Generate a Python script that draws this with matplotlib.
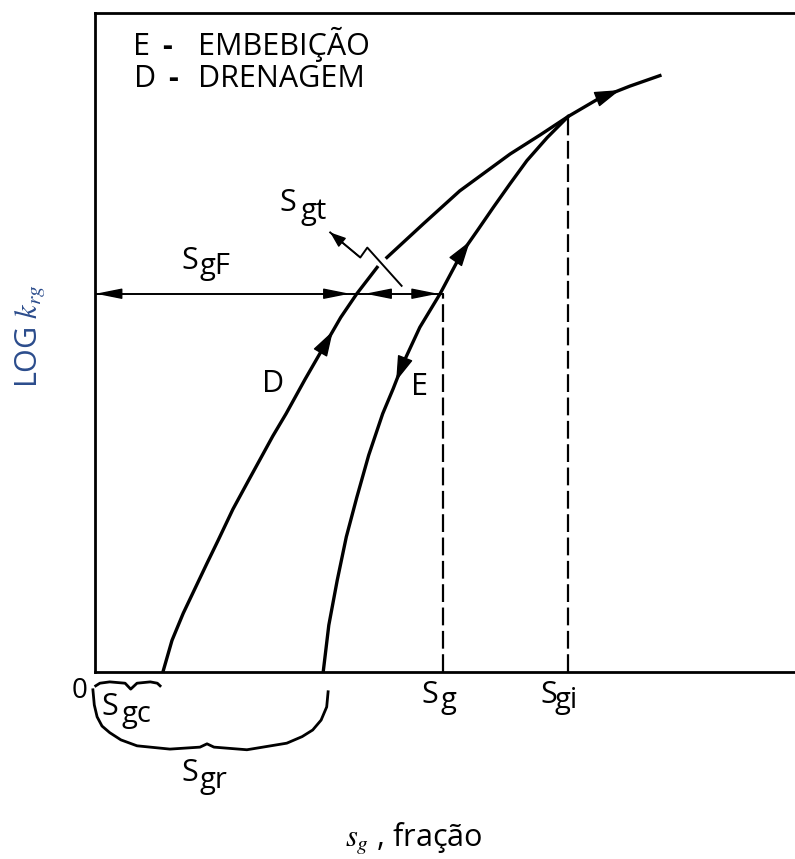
import matplotlib
matplotlib.use('Agg')
import matplotlib.pyplot as plt
import numpy as np

plt.rcParams['font.family'] = ['Open Sans', 'DejaVu Sans']
plt.rcParams['mathtext.fontset'] = 'stix'

# drainage curve D (x = gas saturation, y = log krg, both scaled 0..1)
drain_x = [0.097, 0.110, 0.126, 0.143, 0.160, 0.176, 0.197, 0.220, 0.236, 0.254,
           0.273, 0.300, 0.326, 0.351, 0.374, 0.403,
           0.417, 0.469, 0.521, 0.593, 0.636, 0.676, 0.721, 0.764, 0.807]
drain_y = [0.000, 0.048, 0.089, 0.127, 0.165, 0.200, 0.247, 0.292, 0.323, 0.358,
           0.392, 0.444, 0.492, 0.538, 0.574, 0.614,
           0.629, 0.680, 0.730, 0.786, 0.815, 0.843, 0.871, 0.889, 0.905]
drain_gap = 16  # curve is broken where the S_gt pointer crosses it

# imbibition curve E (from S_gr up to S_gi)
imb_x = [0.326, 0.334, 0.346, 0.359, 0.374, 0.391, 0.411, 0.426, 0.440, 0.464,
         0.493, 0.524, 0.547, 0.569, 0.593, 0.617, 0.646, 0.676]
imb_y = [0.000, 0.071, 0.139, 0.205, 0.265, 0.329, 0.392, 0.430, 0.468, 0.523,
         0.574, 0.636, 0.671, 0.705, 0.741, 0.776, 0.811, 0.843]

sg, sg_level = 0.497, 0.574
sgi, sgi_level = 0.676, 0.843

# arrows on the S_gF line: tip position and direction
sgf_tips = [0.001, 0.364, 0.386, 0.490]
sgf_dirs = [-1, 1, -1, 1]

# S_gt pointer
sgt_x = [0.336, 0.379, 0.389, 0.438]
sgt_y = [0.667, 0.629, 0.644, 0.586]

# braces under the x axis
brace_c_x = [0.001, 0.007, 0.021, 0.043, 0.051, 0.060, 0.079, 0.089, 0.093]
brace_c_y = [-0.021, -0.017, -0.015, -0.017, -0.026, -0.017, -0.015, -0.017, -0.021]
brace_r_x = [-0.003, -0.001, 0.003, 0.010, 0.021, 0.037, 0.060, 0.107, 0.150,
             0.160, 0.170, 0.217, 0.274, 0.296, 0.311, 0.323, 0.331, 0.333]
brace_r_y = [-0.027, -0.050, -0.068, -0.082, -0.092, -0.103, -0.112, -0.117, -0.114,
             -0.109, -0.114, -0.118, -0.108, -0.098, -0.088, -0.073, -0.053, -0.030]

fig = plt.figure(figsize=(7.95, 8.59), dpi=100)
ax = fig.add_axes([95 / 795, 187 / 859, 700 / 795, 659 / 859])
ax.set_xlim(0, 1)
ax.set_ylim(0, 1)
ax.set_xticks([])
ax.set_yticks([])
ax.spines['right'].set_visible(False)
for s in ['left', 'top', 'bottom']:
    ax.spines[s].set_linewidth(2)


def head(x0, y0, x1, y1, ms=20, hl=0.8, hw=0.25):
    ax.annotate('', xy=(x1, y1), xytext=(x0, y0), annotation_clip=False,
                arrowprops=dict(arrowstyle='-|>,head_length=%g,head_width=%g' % (hl, hw),
                                mutation_scale=ms, color='k', lw=1,
                                shrinkA=0, shrinkB=0))


def head_on(xs, ys, i, frac, reverse=False, **kw):
    a = np.array([xs[i], ys[i]])
    b = np.array([xs[i + 1], ys[i + 1]])
    d = (b - a) / np.hypot(*(b - a))
    if reverse:
        d = -d
    tip = a + frac * (b - a)
    tail = tip - 0.01 * d
    head(tail[0], tail[1], tip[0], tip[1], **kw)


lw = 2.4
ax.plot(drain_x[:drain_gap], drain_y[:drain_gap], 'k', lw=lw)
ax.plot(drain_x[drain_gap:], drain_y[drain_gap:], 'k', lw=lw)
ax.plot(imb_x, imb_y, 'k', lw=lw)

ax.plot([sg, sg], [0, sg_level], 'k', lw=1.6, ls=(0, (8, 2.5)))
ax.plot([sgi, sgi], [0, sgi_level], 'k', lw=1.6, ls=(0, (8, 2.5)))
ax.plot([0, sg], [sg_level, sg_level], 'k', lw=1.4)

head_on(drain_x, drain_y, 12, 0.55)
head_on(drain_x[drain_gap:], drain_y[drain_gap:], 6, 0.67)
head_on(imb_x, imb_y, 7, 0.3, reverse=True)
head_on(imb_x, imb_y, 11, 0.5)
for t, d in zip(sgf_tips, sgf_dirs):
    head(t - 0.01 * d, sg_level, t, sg_level, ms=18, hl=0.9, hw=0.18)

ax.plot(sgt_x, sgt_y, 'k', lw=1.4)
head(sgt_x[1], sgt_y[1], sgt_x[0], sgt_y[0], ms=12, hl=0.8, hw=0.3)

ax.plot(brace_c_x, brace_c_y, 'k', lw=2, clip_on=False)
ax.plot(brace_r_x, brace_r_y, 'k', lw=2, clip_on=False)

fs = 22
fsub = 21


def sym(x, y, sub, xs, ys):
    ax.text(x, y, 'S', fontsize=fs, va='baseline', ha='left', clip_on=False)
    ax.text(xs, ys, sub, fontsize=fsub, va='baseline', ha='left', clip_on=False)


sym(0.124, 0.612, 'gF', 0.150, 0.604)
sym(0.263, 0.700, 'gt', 0.293, 0.688)
sym(0.467, -0.047, 'g', 0.493, -0.055)
sym(0.636, -0.047, 'gi', 0.657, -0.055)
sym(0.0096, -0.065, 'gc', 0.038, -0.076)
sym(0.124, -0.166, 'gr', 0.150, -0.176)

ax.text(0.238, 0.425, 'D', fontsize=fs, va='baseline')
ax.text(0.452, 0.420, 'E', fontsize=fs, va='baseline')
ax.text(-0.033, -0.039, '0', fontsize=fs - 2, va='baseline', clip_on=False)

ax.text(0.054, 0.937, 'E', fontsize=fs, va='baseline')
ax.text(0.096, 0.937, '-', fontsize=fs, va='baseline', fontweight='bold')
ax.text(0.147, 0.937, 'EMBEBIÇÃO', fontsize=fs, va='baseline')
ax.text(0.056, 0.887, 'D', fontsize=fs, va='baseline')
ax.text(0.104, 0.887, '-', fontsize=fs, va='baseline', fontweight='bold')
ax.text(0.147, 0.887, 'DRENAGEM', fontsize=fs, va='baseline')

ax.text(-0.091, 0.509, 'LOG $k_{rg}$', fontsize=fs, rotation=90, ha='center',
        va='center', color='#2b4c8c', clip_on=False)
fig.text(345 / 795, 12 / 859, '$s_g$ , fração', fontsize=fs, ha='left', va='baseline')

fig.savefig('out.png', dpi=100)
